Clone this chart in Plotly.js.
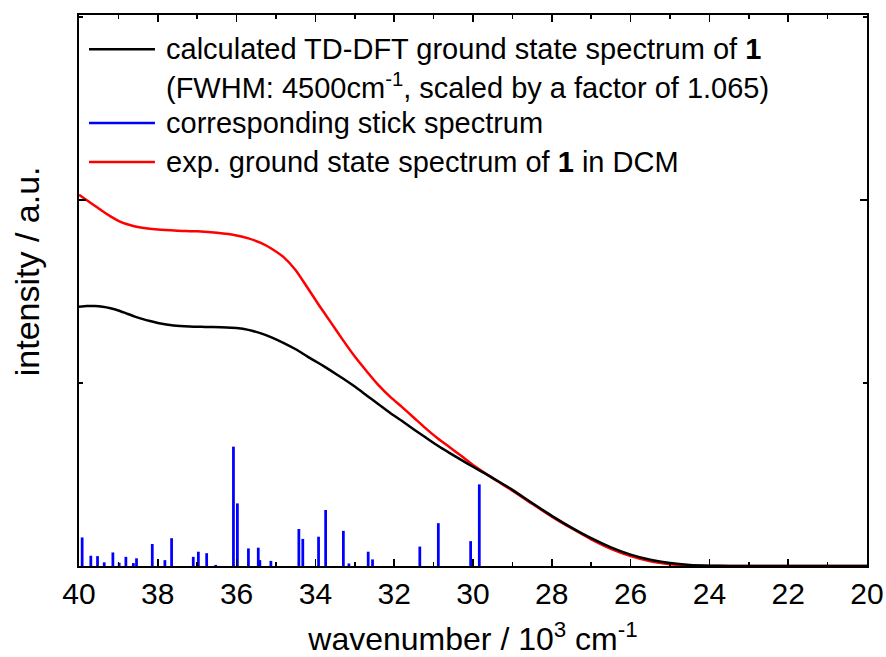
<!DOCTYPE html>
<html>
<head>
<meta charset="utf-8">
<script src="https://cdn.plot.ly/plotly-3.0.1.min.js"></script>
<style>html,body{margin:0;padding:0;background:#fff;}#chart{width:886px;height:657px;}</style>
</head>
<body>
<div id="chart"></div>
<script>
// wavenumber in 10^3 cm^-1
const calcWavenumber = [40.0, 39.8, 39.6, 39.4, 39.2, 39.0, 38.8, 38.6, 38.4, 38.2, 38.0, 37.6, 37.2, 36.8, 36.4, 36.0, 35.7, 35.4, 35.1, 34.8, 34.5, 34.2, 33.9, 33.6, 33.3, 33.0, 32.7, 32.4, 32.1, 31.8, 31.5, 31.2, 30.9, 30.6, 30.3, 30.0, 29.7, 29.4, 29.0, 28.5, 28.0, 27.5, 27.0, 26.5, 26.0, 25.5, 25.0, 24.5, 24.0, 23.5, 22.0, 20.0];
const calcIntensity  = [0.708, 0.710, 0.710, 0.708, 0.704, 0.698, 0.690, 0.682, 0.675, 0.669, 0.664, 0.657, 0.654, 0.653, 0.652, 0.650, 0.645, 0.636, 0.624, 0.609, 0.592, 0.572, 0.553, 0.533, 0.512, 0.490, 0.466, 0.442, 0.418, 0.396, 0.373, 0.351, 0.329, 0.309, 0.290, 0.271, 0.253, 0.234, 0.208, 0.172, 0.137, 0.105, 0.076, 0.051, 0.031, 0.017, 0.008, 0.003, 0.001, 0.000, 0.000, 0.000];

const expWavenumber = [40.0, 39.8, 39.6, 39.4, 39.2, 39.0, 38.8, 38.6, 38.4, 38.0, 37.5, 37.0, 36.5, 36.0, 35.7, 35.4, 35.1, 34.8, 34.5, 34.2, 33.9, 33.6, 33.3, 33.0, 32.7, 32.4, 32.1, 31.8, 31.5, 31.2, 30.9, 30.6, 30.3, 30.0, 29.7, 29.4, 29.0, 28.5, 28.0, 27.5, 27.0, 26.5, 26.0, 25.5, 25.0, 24.5, 24.0, 22.0, 20.0];
const expIntensity  = [1.014, 0.999, 0.984, 0.969, 0.955, 0.943, 0.934, 0.928, 0.924, 0.919, 0.916, 0.914, 0.910, 0.903, 0.895, 0.883, 0.866, 0.843, 0.808, 0.760, 0.711, 0.664, 0.617, 0.572, 0.532, 0.494, 0.462, 0.434, 0.405, 0.376, 0.349, 0.325, 0.301, 0.276, 0.254, 0.233, 0.206, 0.170, 0.135, 0.103, 0.073, 0.047, 0.027, 0.013, 0.005, 0.001, 0.000, 0.000, 0.000];

const stickPositions = [39.92, 39.70, 39.53, 39.36, 39.14, 38.98, 38.81, 38.62, 38.54, 38.14, 37.82, 37.65, 37.10, 36.97, 36.76, 36.53, 36.08, 35.98, 35.70, 35.45, 35.41, 35.13, 34.42, 34.32, 33.92, 33.74, 33.29, 33.15, 32.66, 32.55, 31.35, 30.88, 30.06, 29.84];
const stickIntensity = [0.078, 0.028, 0.027, 0.010, 0.037, 0.009, 0.025, 0.008, 0.021, 0.060, 0.016, 0.076, 0.025, 0.039, 0.035, 0.003, 0.326, 0.171, 0.048, 0.050, 0.016, 0.014, 0.101, 0.074, 0.080, 0.153, 0.096, 0.007, 0.039, 0.018, 0.053, 0.117, 0.068, 0.223];

const xTickVals = [40, 38, 36, 34, 32, 30, 28, 26, 24, 22, 20];
const xTickText = ['40', '38', '36', '34', '32', '30', '28', '26', '24', '22', '20'];

const legendLabels = [
  'calculated TD-DFT ground state spectrum of <b>1</b>',
  '(FWHM: 4500cm<sup>-1</sup>, scaled by a factor of 1.065)',
  'corresponding stick spectrum',
  'exp. ground state spectrum of <b>1</b> in DCM'
];
const legendColors = ['#000000', null, '#0000ff', '#ff0000'];

const FONT = 'Liberation Sans, Arial, Helvetica, sans-serif';

const traces = [
  {
    type: 'bar', name: 'corresponding stick spectrum',
    x: stickPositions, y: stickIntensity, width: 0.07,
    marker: {color: '#0000ff', line: {width: 0}},
    showlegend: false, hoverinfo: 'x+y'
  },
  {
    type: 'scatter', mode: 'lines', name: 'exp. ground state spectrum of 1 in DCM',
    x: expWavenumber, y: expIntensity,
    line: {color: '#ff0000', width: 2.5, shape: 'spline', smoothing: 0.6},
    showlegend: false
  },
  {
    type: 'scatter', mode: 'lines', name: 'calculated TD-DFT ground state spectrum of 1',
    x: calcWavenumber, y: calcIntensity,
    line: {color: '#000000', width: 2.5, shape: 'spline', smoothing: 0.6},
    showlegend: false
  }
];

// manual legend (paper coordinates)
const legendY = [0.938, 0.871, 0.804, 0.733];
const annotations = [];
const shapes = [];
legendLabels.forEach((t, i) => {
  annotations.push({
    xref: 'paper', yref: 'paper', x: 0.1079, y: legendY[i],
    xanchor: 'left', yanchor: 'middle', showarrow: false,
    text: t, font: {family: FONT, size: 29, color: '#000'}
  });
  if (legendColors[i]) {
    shapes.push({
      type: 'line', xref: 'paper', yref: 'paper',
      x0: 0.0127, x1: 0.0964, y0: legendY[i], y1: legendY[i],
      line: {color: legendColors[i], width: 2.5}
    });
  }
});
annotations.push({
  xref: 'paper', yref: 'paper', x: -0.066, y: 0.535,
  xanchor: 'center', yanchor: 'middle', showarrow: false, textangle: -90,
  text: 'intensity / a.u.', font: {family: FONT, size: 34, color: '#000'}
});

const layout = {
  width: 886, height: 657,
  margin: {l: 79, r: 19, t: 15, b: 91, pad: 0},
  paper_bgcolor: '#fff', plot_bgcolor: '#fff',
  barmode: 'overlay',
  showlegend: false,
  font: {family: FONT, color: '#000'},
  xaxis: {
    range: [40, 20], autorange: false,
    tickmode: 'array', tickvals: xTickVals, ticktext: xTickText,
    ticks: 'inside', ticklen: 7, tickwidth: 1.5, tickcolor: '#000',
    minor: {dtick: 1, ticks: 'inside', ticklen: 4, tickwidth: 1.5, tickcolor: '#000'},
    showline: true, linecolor: '#000', linewidth: 2, mirror: 'ticks',
    showgrid: false, zeroline: false,
    tickfont: {family: FONT, size: 30, color: '#000'},
    title: {text: 'wavenumber / 10<sup>3</sup> cm<sup>-1</sup>', font: {family: FONT, size: 32, color: '#000'}, standoff: 20}
  },
  yaxis: {
    range: [0, 1.505], autorange: false,
    tickmode: 'linear', tick0: 0, dtick: 1,
    ticks: 'inside', ticklen: 7, tickwidth: 1.5, tickcolor: '#000',
    minor: {dtick: 0.5, ticks: 'inside', ticklen: 4, tickwidth: 1.5, tickcolor: '#000'},
    showticklabels: false,
    showline: true, linecolor: '#000', linewidth: 2, mirror: 'ticks',
    showgrid: false, zeroline: false
  },
  annotations: annotations,
  shapes: shapes
};

Plotly.newPlot('chart', traces, layout, {displayModeBar: false, staticPlot: true});
</script>
</body>
</html>
